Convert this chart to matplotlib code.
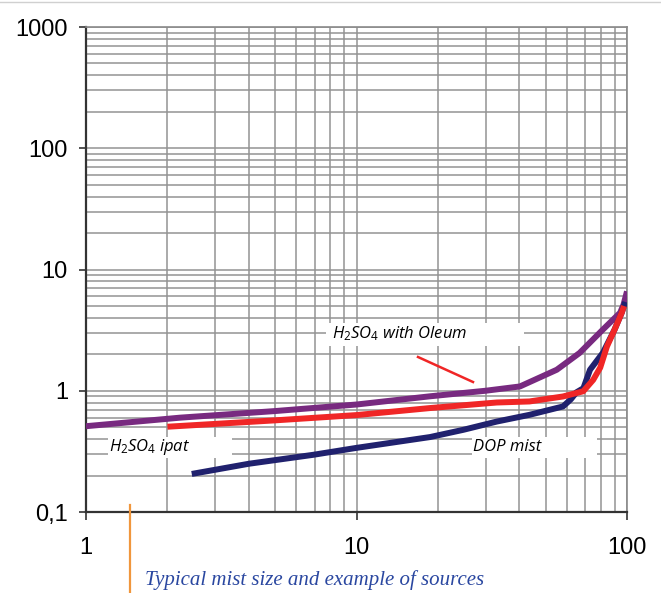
import matplotlib
matplotlib.use("Agg")
import matplotlib.pyplot as plt
from matplotlib.patches import Rectangle
from matplotlib.lines import Line2D
import matplotlib.ticker as mticker

plt.rcParams['mathtext.fontset'] = 'custom'
plt.rcParams['mathtext.it'] = 'Open Sans:italic'
plt.rcParams['mathtext.rm'] = 'Open Sans'

# ---- data ----
oleum_x = [1, 2.23, 5, 10, 18.7, 30, 40.2, 55, 66.8, 81.5, 94.3, 97, 100]
oleum_y = [0.51, 0.60, 0.68, 0.77, 0.90, 1.0, 1.085, 1.49, 2.05, 3.2, 4.4, 5.1, 6.6]

ipat_x = [2, 5, 10, 18.7, 33, 43.6, 58, 68.9, 75, 79.6, 84.3, 90, 95.6, 97.5]
ipat_y = [0.505, 0.57, 0.63, 0.72, 0.80, 0.816, 0.897, 0.99, 1.23, 1.55, 2.32, 3.2, 4.4, 5.0]

dop_x = [2.46, 4, 6.9, 10, 18.7, 24.8, 33, 43.6, 58, 62, 65, 69, 73, 81.5, 90, 95.6, 98.5]
dop_y = [0.206, 0.25, 0.296, 0.338, 0.415, 0.476, 0.557, 0.633, 0.742, 0.85, 0.97, 1.05, 1.49, 2.06, 3.2, 4.4, 5.4]

yticks = [0.1, 1, 10, 100, 1000]
ytick_labels = ['0,1', '1', '10', '100', '1000']
xticks = [1, 10, 100]
xtick_labels = ['1', '10', '100']

W, H = 661, 593
fig = plt.figure(figsize=(W / 100, H / 100), dpi=100)


def fx(px):
    return px / W


def fy(py):
    return 1 - py / H


ax = fig.add_axes([fx(86), fy(512), fx(627) - fx(86), fy(27) - fy(512)])
ax.set_xscale('log')
ax.set_yscale('log')
ax.set_xlim(1, 100)
ax.set_ylim(0.1, 1000)

ax.grid(True, which='both', color='#939393', linewidth=1.1)
ax.set_axisbelow(True)

lw = 4.3
ax.plot(oleum_x, oleum_y, color='#782a80', lw=lw, solid_capstyle='butt',
        solid_joinstyle='round', zorder=3)
ax.plot(dop_x, dop_y, color='#20216e', lw=lw, solid_capstyle='butt',
        solid_joinstyle='round', zorder=3)
ax.plot(ipat_x, ipat_y, color='#f02626', lw=lw, solid_capstyle='butt',
        solid_joinstyle='round', zorder=4)

ax.set_yticks(yticks)
ax.yaxis.set_major_formatter(mticker.FixedFormatter(ytick_labels))
ax.set_xticks(xticks)
ax.xaxis.set_major_formatter(mticker.FixedFormatter(xtick_labels))
ax.yaxis.set_minor_formatter(mticker.NullFormatter())
ax.xaxis.set_minor_formatter(mticker.NullFormatter())
ax.tick_params(which='minor', length=0)
ax.tick_params(axis='y', which='major', direction='out', length=5, width=1.2,
               pad=8, labelsize=17, color='#333333')
ax.tick_params(axis='x', which='major', direction='out', length=6, width=1.2,
               pad=12, labelsize=17, color='#333333')
for lab in ax.get_xticklabels() + ax.get_yticklabels():
    lab.set_fontfamily('Liberation Sans')

for s in ['left', 'bottom']:
    ax.spines[s].set_color('#333333')
    ax.spines[s].set_linewidth(1.6)
for s in ['top', 'right']:
    ax.spines[s].set_color('#8a8a8a')
    ax.spines[s].set_linewidth(1.2)


def box(x0, y0, x1, y1):
    r = Rectangle((fx(x0), fy(y1)), fx(x1) - fx(x0), fy(y0) - fy(y1),
                  transform=fig.transFigure, facecolor='white', edgecolor='none',
                  zorder=5)
    fig.patches.append(r)


box(326, 323, 524, 346)
box(108, 437, 232, 458)
box(472, 437, 597, 458)

lbl_kw = dict(fontfamily='Open Sans', fontstyle='italic', fontsize=12,
              color='black', va='center', ha='left', zorder=6)
fig.text(fx(332), fy(334), r'$\mathit{H_2SO_4}$ with Oleum', **lbl_kw)
fig.text(fx(109), fy(447), r'$\mathit{H_2SO_4}$ ipat', **lbl_kw)
fig.text(fx(473), fy(447), 'DOP mist', **lbl_kw)

# red pointer line
fig.add_artist(Line2D([fx(418), fx(473)], [fy(357), fy(382)],
                      color='#f02626', lw=1.8, zorder=6))

# orange marker line below axis
fig.add_artist(Line2D([fx(130), fx(130)], [fy(505), fy(593)],
                      color='#f0963c', lw=1.6, zorder=6))

# top border line
fig.add_artist(Line2D([0, 1], [fy(2), fy(2)], color='#d0d0d0', lw=1.0))

fig.text(fx(145), fy(580), 'Typical mist size and example of sources',
         fontfamily='Liberation Serif', fontstyle='italic', fontsize=15,
         color='#2a47a0', va='center', ha='left')

fig.savefig('out.png', dpi=100, facecolor='white')
